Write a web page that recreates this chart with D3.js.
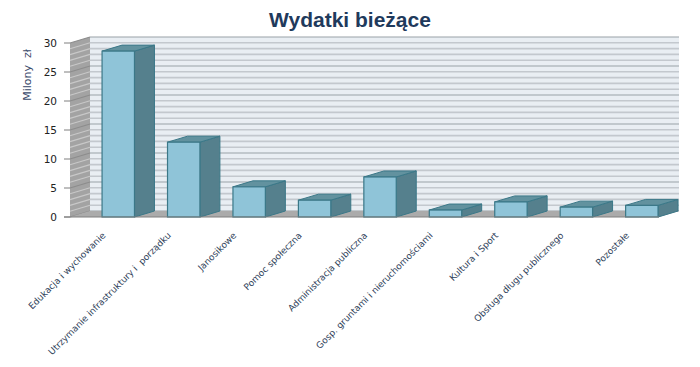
<!DOCTYPE html>
<html><head><meta charset="utf-8">
<script src="https://cdn.jsdelivr.net/npm/d3@7"></script>
<style>
html,body{margin:0;padding:0;background:#fff;}
svg{display:block;}
</style></head>
<body>
<svg id="c" width="700" height="367"></svg>
<script>
const title = "Wydatki bieżące";
const yTitle = "Milony  zł";
const categories = ["Edukacja i wychowanie","Utrzymanie infrastruktury i  porządku","Janosikowe","Pomoc społeczna","Administracja publiczna","Gosp. gruntami i nieruchomościami","Kultura i Sport","Obsługa długu publicznego","Pozostałe"];
const values = [28.6, 12.9, 5.2, 2.9, 6.9, 1.2, 2.6, 1.7, 2.0];
const yTicks = [0, 5, 10, 15, 20, 25, 30];
const yMax = 30;

const svg = d3.select("#c");
const DX = 20, DY = -6;
const x = d3.scaleBand().domain(categories).range([70, 659]).paddingInner(0).paddingOuter(0);
const y = d3.scaleLinear().domain([0, yMax]).range([217, 43]);
const bw = x.bandwidth();
const x0 = 70, x1 = 659, yb = y(0), yt = y(yMax);

// title
svg.append("text").attr("x", 350).attr("y", 27).attr("text-anchor", "middle")
  .attr("font-family", "Liberation Sans, Arial, sans-serif").attr("font-weight", "bold")
  .attr("font-size", 21).attr("fill", "#1f3a5c").text(title);

// back wall
svg.append("polygon")
  .attr("points", [[x0+DX, yt+DY],[x1+DX, yt+DY],[x1+DX, yb+DY],[x0+DX, yb+DY]].join(" "))
  .attr("fill", "#e9eef3");
const minor = d3.range(0, yMax + 1, 1);
svg.append("g").selectAll("line").data(minor).join("line")
  .attr("x1", x0+DX).attr("x2", x1+DX)
  .attr("y1", d => y(d)+DY).attr("y2", d => y(d)+DY)
  .attr("stroke", d => d % 5 === 0 ? "#9aa1a8" : "#c3c8ce")
  .attr("stroke-width", d => d % 5 === 0 ? 1.2 : 1.6);

// left wall
svg.append("polygon")
  .attr("points", [[x0, yt],[x0+DX, yt+DY],[x0+DX, yb+DY],[x0, yb]].join(" "))
  .attr("fill", "#a3a3a3");
svg.append("g").selectAll("line").data(minor).join("line")
  .attr("x1", x0).attr("x2", x0+DX)
  .attr("y1", d => y(d)).attr("y2", d => y(d)+DY)
  .attr("stroke", d => d % 5 === 0 ? "#8c8c8c" : "#c8c8c8")
  .attr("stroke-width", 1.2);

// floor
svg.append("polygon")
  .attr("points", [[x0, yb],[x1, yb],[x1+DX, yb+DY],[x0+DX, yb+DY]].join(" "))
  .attr("fill", "#ababab");

// bars
const bars = svg.append("g").selectAll("g").data(categories).join("g");
const bx = c => x(c) + bw * 0.49;
const bW = bw * 0.495;
const valOf = c => values[categories.indexOf(c)];
const stroke = "#3b7888";
// side
bars.append("polygon").attr("points", c => {
  const l = bx(c) + bW, t = y(valOf(c));
  return [[l, t],[l+DX, t+DY],[l+DX, yb+DY],[l, yb]].join(" ");
}).attr("fill", "#55808d").attr("stroke", stroke).attr("stroke-width", 1).attr("stroke-linejoin", "round");
// top
bars.append("polygon").attr("points", c => {
  const l = bx(c), t = y(valOf(c));
  return [[l, t],[l+DX, t+DY],[l+bW+DX, t+DY],[l+bW, t]].join(" ");
}).attr("fill", "#62929f").attr("stroke", stroke).attr("stroke-width", 1).attr("stroke-linejoin", "round");
// front
bars.append("rect")
  .attr("x", c => bx(c)).attr("y", c => y(valOf(c)))
  .attr("width", bW).attr("height", c => yb - y(valOf(c)))
  .attr("fill", "#8fc4d8").attr("stroke", stroke).attr("stroke-width", 1.2);

// axes
svg.append("line").attr("x1", 64).attr("x2", x1).attr("y1", yb).attr("y2", yb)
  .attr("stroke", "#7f7f7f").attr("stroke-width", 1);
const yAxis = svg.append("g");
yAxis.selectAll("line").data(yTicks).join("line")
  .attr("x1", 64).attr("x2", x0).attr("y1", d => y(d)).attr("y2", d => y(d))
  .attr("stroke", "#7f7f7f");
yAxis.selectAll("text").data(yTicks).join("text")
  .attr("x", 57).attr("y", d => y(d) + 4).attr("text-anchor", "end")
  .attr("font-family", "DejaVu Sans, Verdana, sans-serif").attr("font-size", 10.5)
  .attr("fill", "#222").text(d => d);

svg.append("text").attr("transform", "translate(31,75) rotate(-90)")
  .attr("text-anchor", "middle").attr("font-family", "DejaVu Sans, Verdana, sans-serif")
  .attr("font-size", 11).attr("fill", "#3b4a6b").style("white-space", "pre").text(yTitle);

// category labels
svg.append("g").selectAll("text").data(categories).join("text")
  .attr("transform", c => `translate(${bx(c) + 4},236) rotate(-45)`)
  .attr("text-anchor", "end").attr("font-family", "DejaVu Sans, Verdana, sans-serif")
  .attr("font-size", 9).attr("fill", "#2f3f5a").style("white-space", "pre").text(c => c);
</script>
</body></html>
